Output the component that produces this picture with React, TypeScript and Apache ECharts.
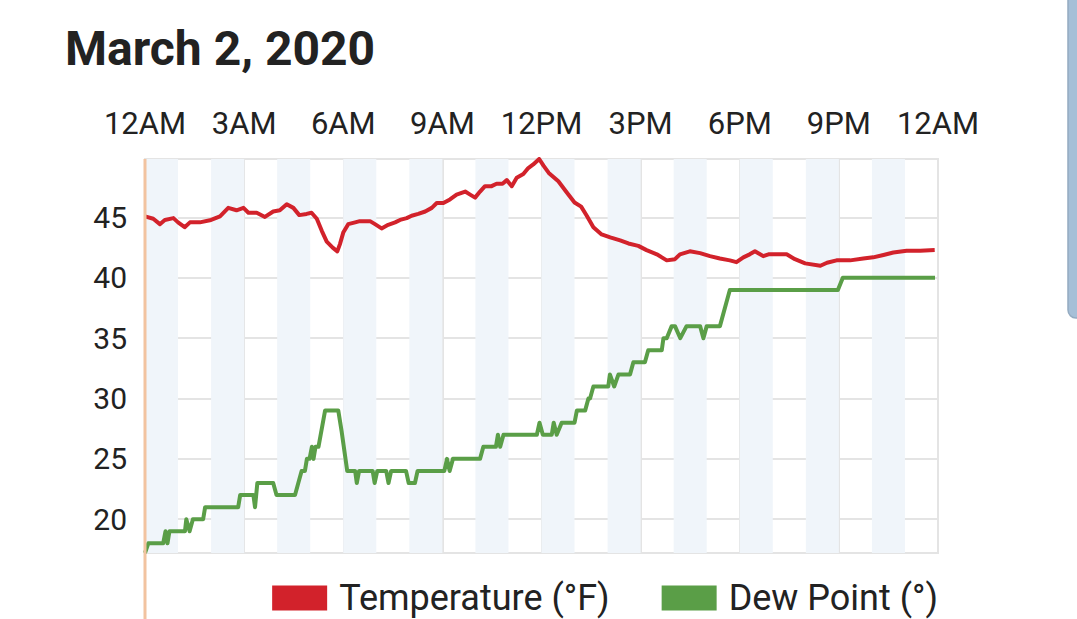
import React, { useEffect, useRef } from "react";
import * as echarts from "echarts";

// Hours since midnight (March 2, 2020) and readings
const tempHours = [
  0.0, 0.25, 0.45, 0.6, 0.86, 1.0, 1.2, 1.36, 1.66, 2.0, 2.27, 2.52, 2.77, 2.98, 3.13, 3.38, 3.63, 3.88,
  4.08, 4.29, 4.49, 4.67, 4.89, 5.04, 5.2, 5.35, 5.5, 5.68, 5.82, 5.9, 6.0, 6.15, 6.36, 6.5, 6.81, 6.96,
  7.16, 7.36, 7.57, 7.72, 7.92, 8.07, 8.27, 8.48, 8.68, 8.83, 9.03, 9.23, 9.43, 9.69, 9.84, 9.99, 10.14,
  10.29, 10.49, 10.64, 10.82, 10.95, 11.1, 11.25, 11.45, 11.6, 11.75, 11.93, 12.06, 12.22, 12.51, 12.76,
  13.0, 13.2, 13.37, 13.57, 13.82, 14.08, 14.38, 14.63, 14.93, 15.18, 15.49, 15.79, 16.04, 16.19, 16.49,
  16.8, 17.1, 17.4, 17.7, 17.9, 18.11, 18.3, 18.46, 18.71, 18.87, 19.42, 19.67, 19.98, 20.44, 20.64,
  20.93, 21.34, 21.74, 22.04, 22.35, 22.65, 23.05, 23.46, 23.9,
];
const tempValues = [
  45.1, 44.9, 44.45, 44.8, 44.95, 44.6, 44.2, 44.6, 44.6, 44.8, 45.1, 45.8, 45.6, 45.8, 45.4, 45.4, 45.05, 45.5,
  45.6, 46.1, 45.8, 45.2, 45.3, 45.4, 44.9, 43.9, 43.0, 42.5, 42.2, 42.8, 43.75, 44.45, 44.6, 44.7, 44.7, 44.45,
  44.1, 44.4, 44.6, 44.8, 44.95, 45.15, 45.3, 45.5, 45.8, 46.2, 46.2, 46.5, 46.9, 47.15, 46.9, 46.65, 47.15,
  47.6, 47.6, 47.8, 47.8, 48.1, 47.6, 48.3, 48.6, 49.1, 49.4, 49.85, 49.3, 48.7, 48.0, 47.1,
  46.25, 45.9, 45.15, 44.2, 43.6, 43.35, 43.1, 42.85, 42.65, 42.3, 41.95, 41.45, 41.55, 41.95, 42.2,
  42.05, 41.8, 41.6, 41.45, 41.3, 41.7, 41.95, 42.2, 41.8, 41.95, 41.95, 41.55, 41.2, 41.0, 41.25,
  41.45, 41.45, 41.6, 41.7, 41.9, 42.1, 42.25, 42.25, 42.3,
];

const dewHours = [
  0.0, 0.1, 0.55, 0.62, 0.68, 0.74, 1.21, 1.25, 1.35, 1.45, 1.76, 1.82, 2.82, 2.88, 3.28, 3.33, 3.4, 3.88,
  3.98, 4.54, 4.64, 4.74, 4.84, 4.9, 4.98, 5.05, 5.1, 5.16, 5.25, 5.45, 5.85, 5.95, 6.12, 6.36, 6.41, 6.48,
  6.89, 6.95, 7.03, 7.3, 7.37, 7.45, 7.9, 7.98, 8.17, 8.25, 9.06, 9.14, 9.22, 9.32, 10.14, 10.24, 10.62,
  10.68, 10.75, 10.85, 11.86, 11.94, 12.04, 12.31, 12.37, 12.46, 12.61, 13.0, 13.07, 13.32, 13.42, 13.47,
  13.57, 14.02, 14.07, 14.2, 14.33, 14.68, 14.78, 15.13, 15.23, 15.64, 15.69, 15.79, 15.94, 16.04, 16.2,
  16.39, 16.8, 16.9, 17.0, 17.4, 17.6, 17.7, 20.97, 21.12, 23.91,
];
const dewValues = [
  17.2, 18, 18, 19, 18, 19, 19, 20, 19, 20, 20, 21, 21, 22, 22, 21, 23, 23,
  22, 22, 23, 24, 24, 25, 25, 26, 25, 26, 26, 29, 29, 27.3, 24, 24, 23, 24,
  24, 23, 24, 24, 23, 24, 24, 23, 23, 24, 24, 25, 24, 25, 25, 26, 26,
  27, 26, 27, 27, 28, 27, 27, 28, 27, 28, 28, 29, 29, 30, 30,
  31, 31, 32, 31, 32, 32, 33, 33, 34, 34, 35, 35, 36, 36, 35,
  36, 36, 35, 36, 36, 38, 39, 39, 40, 40,
];

const hourLabels = ["12AM", "3AM", "6AM", "9AM", "12PM", "3PM", "6PM", "9PM", "12AM"];
const shadedHours = [0, 2, 4, 6, 8, 10, 12, 14, 16, 18, 20, 22];

const TITLE = "March 2, 2020";
const TEMP_NAME = "Temperature (°F)";
const DEW_NAME = "Dew Point (°)";

const FONT = "Roboto, 'Noto Sans', sans-serif";

export default function App() {
  const ref = useRef<HTMLDivElement>(null);

  useEffect(() => {
    if (!ref.current) return;
    const chart = echarts.init(ref.current, null, { renderer: "svg" });
    const tempData = tempHours.map((h, i) => [h, tempValues[i]]);
    const dewData = dewHours.map((h, i) => [h, dewValues[i]]);

    chart.setOption({
      animation: false,
      backgroundColor: "#ffffff",
      textStyle: { fontFamily: FONT },
      title: {
        text: TITLE,
        left: 65,
        top: 24,
        padding: 0,
        textStyle: { fontSize: 48, fontWeight: "bold", color: "#222222", fontFamily: FONT },
      },
      grid: {
        left: 145,
        right: 139,
        top: 159,
        bottom: 66,
        show: true,
        borderColor: "#e4e4e4",
        borderWidth: 2,
        backgroundColor: "transparent",
      },
      legend: {
        data: [TEMP_NAME, DEW_NAME],
        right: 139,
        top: 580,
        padding: 0,
        icon: "rect",
        itemWidth: 55,
        itemHeight: 25,
        itemGap: 52,
        textStyle: { fontSize: 36, color: "#222222", fontFamily: FONT, padding: [0, 0, 0, 7] },
      },
      xAxis: {
        type: "value",
        position: "top",
        min: 0,
        max: 24,
        interval: 3,
        axisLine: { show: false },
        axisTick: { show: false },
        axisLabel: {
          fontSize: 31,
          color: "#222222",
          margin: 20,
          fontFamily: FONT,
          formatter: (v: number) => hourLabels[Math.round(v / 3)] ?? "",
        },
        splitLine: { show: true, lineStyle: { color: "#e4e4e4", width: 2 } },
      },
      yAxis: {
        type: "value",
        min: "dataMin",
        max: "dataMax",
        splitNumber: 6,
        axisLine: { show: false },
        axisTick: { show: false },
        axisLabel: {
          fontSize: 30,
          color: "#222222",
          margin: 18,
          fontFamily: FONT,
          showMinLabel: false,
          showMaxLabel: false,
        },
        splitLine: { show: true, lineStyle: { color: "#e4e4e4", width: 2 } },
      },
      series: [
        {
          name: "stripes",
          type: "line",
          data: [],
          z: -1,
          silent: true,
          markArea: {
            silent: true,
            itemStyle: { color: "#f0f5fa" },
            data: shadedHours.map((h) => [{ xAxis: h }, { xAxis: h + 1 }]),
          },
        },
        {
          name: TEMP_NAME,
          type: "line",
          data: tempData,
          color: "#d2222b",
          showSymbol: false,
          lineStyle: { width: 4, color: "#d2222b", join: "round" },
          itemStyle: { color: "#d2222b" },
          z: 3,
        },
        {
          name: DEW_NAME,
          type: "line",
          data: dewData,
          color: "#5a9e47",
          showSymbol: false,
          lineStyle: { width: 4, color: "#5a9e47", join: "round" },
          itemStyle: { color: "#5a9e47" },
          z: 2,
        },
      ],
    });

    const yMax = Math.max(...tempValues, ...dewValues);
    const x0 = chart.convertToPixel({ xAxisIndex: 0 }, 0) as number;
    const yTop = chart.convertToPixel({ yAxisIndex: 0 }, yMax) as number;
    chart.setOption({
      graphic: [
        {
          type: "line",
          shape: { x1: x0, y1: yTop, x2: x0, y2: 640 },
          style: { stroke: "#f2c3a0", lineWidth: 3 },
          z: 10,
          silent: true,
        },
        {
          type: "rect",
          shape: { x: 1068, y: -20, width: 40, height: 338, r: 8 },
          style: { fill: "#a6bfd7", stroke: "#94abc1", lineWidth: 1.5 },
          silent: true,
        },
      ],
    });

    return () => {
      chart.dispose();
    };
  }, []);

  return (
    <div
      ref={ref}
      style={{ position: "fixed", left: 0, top: 0, width: 1077, height: 619, background: "#ffffff" }}
    />
  );
}
